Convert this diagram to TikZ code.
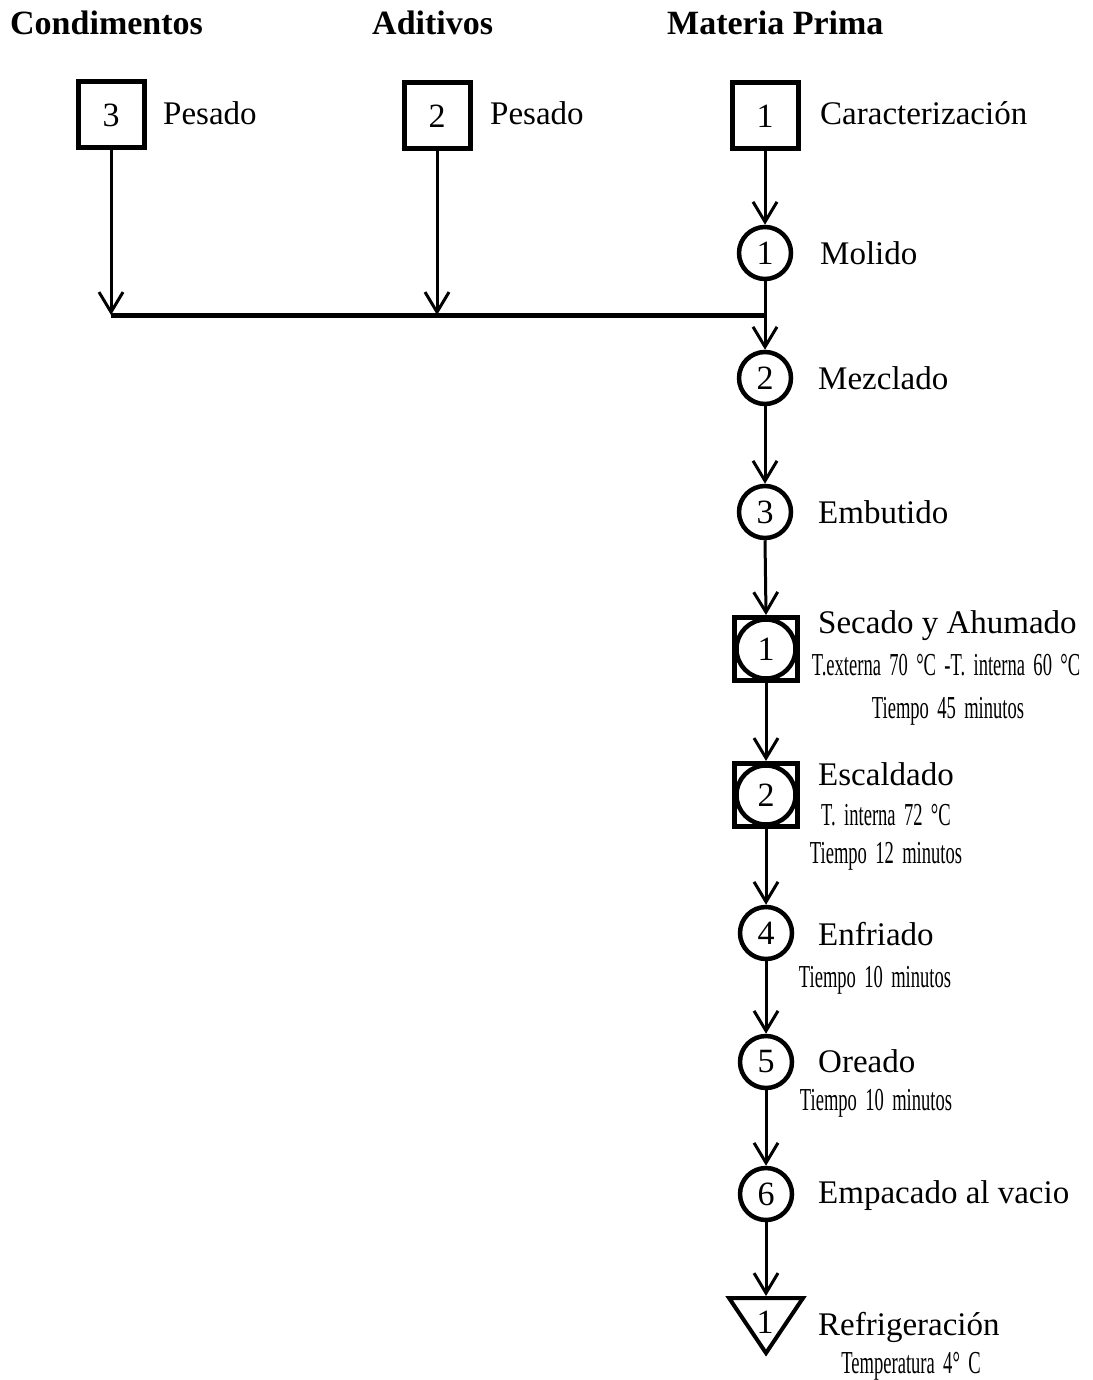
\documentclass[tikz,border=0pt]{standalone}
\usepackage{fontspec}
\setmainfont{Liberation Serif}
\newfontfamily\narrowfont{Liberation Serif}[FakeStretch=0.58,WordSpace=1.8]
\usetikzlibrary{arrows.meta}
\begin{document}
\begin{tikzpicture}[x=1pt,y=-1pt,
  head/.style={font=\bfseries\fontsize{34}{36}\selectfont, anchor=base west, inner sep=0},
  lbl/.style={font=\fontsize{33}{35}\selectfont, anchor=base west, inner sep=0},
  sub/.style={font=\narrowfont\fontsize{32}{34}\selectfont, anchor=base, inner sep=0},
  num/.style={font=\fontsize{34}{36}\selectfont},
  insp/.style={num, rectangle, draw, line width=5pt, minimum size=66pt, inner sep=0},
  oper/.style={num, circle, draw, line width=4.5pt, minimum size=52pt, inner sep=0},
  comb/.style={num, rectangle, draw, line width=5pt, minimum size=63pt, inner sep=0},
  conn/.style={line width=3pt, -{Straight Barb[length=20pt,width=24pt]}},
  bar/.style={line width=5pt}
]
\useasboundingbox (0,0) rectangle (1092,1380);

% headers
\node[head] (hcond) at (10,35) {Condimentos};
\node[head] (hadit) at (372,35) {Aditivos};
\node[head] (hmat) at (667,35) {Materia Prima};

% top inspections
\node[insp] (b3) at (111,115) {3};
\node[lbl] (l3) at (163,125) {Pesado};
\node[insp] (b2) at (437,116) {2};
\node[lbl] (l2) at (490,125) {Pesado};
\node[insp] (b1) at (765,116) {1};
\node[lbl] (l1) at (820,125) {Caracterización};

% operations
\node[oper] (c1) at (765,253) {1};
\node[lbl] (lc1) at (820,264) {Molido};

\coordinate (j3) at (111,315);
\coordinate (j2) at (437,315);
\coordinate (jm) at (765,315);

\node[oper] (c2) at (765,378) {2};
\node[lbl] (lc2) at (818,389) {Mezclado};
\node[oper] (c3) at (765,512) {3};
\node[lbl] (lc3) at (818,523) {Embutido};

\node[comb] (s1) at (766,649) {1};
\draw[line width=4.5pt] (s1.center) circle (29.5);
\node[lbl] (ls1) at (818,633) {Secado y Ahumado};
\node[sub] (ls1a) at (946,675) {T.externa 70 °C -T. interna 60 °C};
\node[sub] (ls1b) at (948,718) {Tiempo 45 minutos};

\node[comb] (s2) at (766,795) {2};
\draw[line width=4.5pt] (s2.center) circle (29.5);
\node[lbl] (ls2) at (818,785) {Escaldado};
\node[sub] (ls2a) at (886,825) {T. interna 72 °C};
\node[sub] (ls2b) at (886,863) {Tiempo 12 minutos};

\node[oper] (c4) at (766,933) {4};
\node[lbl] (lc4) at (818,945) {Enfriado};
\node[sub] (lc4a) at (875,987) {Tiempo 10 minutos};

\node[oper] (c5) at (766,1062) {5};
\node[lbl] (lc5) at (818,1072) {Oreado};
\node[sub] (lc5a) at (876,1110) {Tiempo 10 minutos};

\node[oper] (c6) at (766,1194) {6};
\node[lbl] (lc6) at (818,1203) {Empacado al vacio};

% storage triangle
\node[num, inner sep=0] (t1) at (765,1322) {1};
\coordinate (ttop) at (766,1296);
\draw[line width=4pt, line join=miter] (729,1298) -- (803,1298) -- (766,1353) -- cycle;
\node[lbl] (lt1) at (818,1335) {Refrigeración};
\node[sub] (lt1a) at (911,1373) {Temperatura 4° C};

% connectors
\draw[bar] (j3) -- (jm);
\draw[conn] (b3.south) -- (j3);
\draw[conn] (b2.south) -- (j2);
\draw[conn] (b1.south) -- (c1.north);
\draw[conn] (c1.south) -- (c2.north);
\draw[conn] (c2.south) -- (c3.north);
\draw[conn] (c3.south) -- (s1.north);
\draw[conn] (s1.south) -- (s2.north);
\draw[conn] (s2.south) -- (c4.north);
\draw[conn] (c4.south) -- (c5.north);
\draw[conn] (c5.south) -- (c6.north);
\draw[conn] (c6.south) -- (ttop);
\end{tikzpicture}
\end{document}
